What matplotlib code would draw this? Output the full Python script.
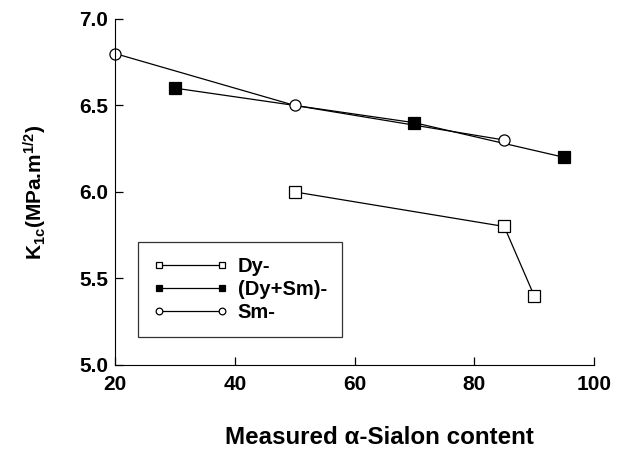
import matplotlib
matplotlib.use('Agg')
import matplotlib.pyplot as plt

plt.rcParams['font.family'] = ['Liberation Sans', 'DejaVu Sans']
plt.rcParams['font.weight'] = 'bold'
plt.rcParams['mathtext.fontset'] = 'custom'
plt.rcParams['mathtext.rm'] = 'Liberation Sans:bold'
plt.rcParams['mathtext.default'] = 'rm'

# data
dy_x = [50, 85, 90]
dy_y = [6.0, 5.8, 5.4]
dysm_x = [30, 70, 95]
dysm_y = [6.6, 6.4, 6.2]
sm_x = [20, 50, 85]
sm_y = [6.8, 6.5, 6.3]

fig = plt.figure(figsize=(6.22, 4.51), dpi=100)
ax = fig.add_axes([0.185, 0.191, 0.77, 0.767])

ax.plot(dy_x, dy_y, 'k-', lw=0.9, marker='s', ms=8, mfc='white', mec='black', mew=0.9, label='Dy-', clip_on=False)
ax.plot(dysm_x, dysm_y, 'k-', lw=0.9, marker='s', ms=8, mfc='black', mec='black', mew=0.9, label='(Dy+Sm)-', clip_on=False)
ax.plot(sm_x, sm_y, 'k-', lw=0.9, marker='o', ms=8, mfc='white', mec='black', mew=0.9, label='Sm-', clip_on=False)

ax.set_xlim(20, 100)
ax.set_ylim(5.0, 7.0)
ax.set_xticks([20, 40, 60, 80, 100])
ax.set_yticks([5.0, 5.5, 6.0, 6.5, 7.0])
ax.set_yticklabels(['5.0', '5.5', '6.0', '6.5', '7.0'])
ax.spines['top'].set_visible(False)
ax.spines['right'].set_visible(False)
ax.tick_params(direction='in', length=6, width=0.9, labelsize=15)
ax.tick_params(axis='x', pad=7)
ax.tick_params(axis='y', pad=5)

ax.set_xlabel('Measured α-Sialon content', fontsize=17.4, fontweight='bold')
ax.xaxis.set_label_coords(0.553, -0.178)
ax.set_ylabel(r'K$_{1c}$(MPa.m$^{1/2}$)', fontsize=15, fontweight='bold', labelpad=22)

leg = ax.legend(loc='lower left', bbox_to_anchor=(0.048, 0.081), numpoints=2, fontsize=14.5,
                frameon=True, fancybox=False, edgecolor='black', handlelength=3.7,
                markerscale=0.6, borderpad=0.75, labelspacing=0.2, handletextpad=0.5,
                borderaxespad=0)
leg.get_frame().set_linewidth(0.9)
for t in leg.get_texts():
    t.set_fontweight('bold')

fig.savefig('out.png', dpi=100)
